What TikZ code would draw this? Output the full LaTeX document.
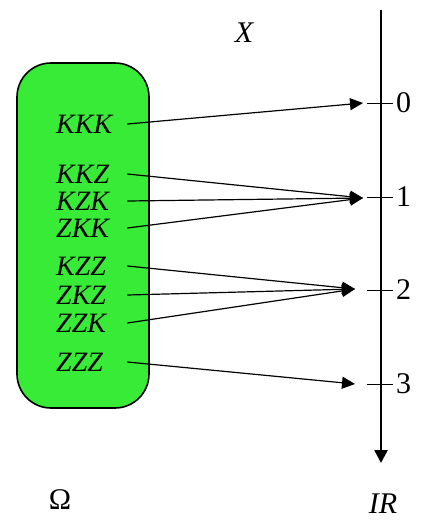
\documentclass[tikz,border=0pt]{standalone}
\usepackage{fontspec}
\setmainfont{Liberation Serif}
\usetikzlibrary{arrows.meta}
\definecolor{boxgreen}{RGB}{55,235,55}
\begin{document}
\begin{tikzpicture}[x=1pt,y=-1pt,
  lab/.style={anchor=west,inner sep=0pt,text width=71pt,align=left,font=\fontsize{28}{28}\selectfont\itshape},
  num/.style={anchor=west,inner sep=0pt,font=\fontsize{30}{30}\selectfont},
  maparrow/.style={line width=1.2pt,-{Triangle[length=13pt,width=12pt]}},
  tick/.style={line width=1pt}]
\useasboundingbox (0,0) rectangle (421,525);
\node[draw=black,line width=1.6pt,fill=boxgreen,rounded corners=34pt,minimum width=132pt,minimum height=345pt,inner sep=0pt] (omega) at (83,235.5) {};
\node[lab] (kkk) at (56,124) {KKK};
\node[lab] (kkz) at (56,174) {KKZ};
\node[lab] (kzk) at (56,201) {KZK};
\node[lab] (zkk) at (56,228) {ZKK};
\node[lab] (kzz) at (56,266) {KZZ};
\node[lab] (zkz) at (56,295) {ZKZ};
\node[lab] (zzk) at (56,323) {ZZK};
\node[lab] (zzz) at (56,362) {ZZZ};
\coordinate (t0) at (363,103);
\coordinate (t1) at (363,198);
\coordinate (t2) at (355,289);
\coordinate (t3) at (355,384);
\coordinate (axtop) at (381,10);
\coordinate (axbot) at (381,463);
\draw[line width=2.6pt,-{Triangle[length=13pt,width=13pt]}] (axtop) -- (axbot);
\foreach \i/\y in {0/103,1/197,2/290,3/384}{
  \coordinate (a\i) at (367,\y);
  \coordinate (b\i) at (393,\y);
  \draw[tick] (a\i) -- (b\i);
  \node[num] (n\i) at (396,\y) {\i};
}
\draw[maparrow] (kkk.east) -- (t0);
\draw[maparrow] (kkz.east) -- (t1);
\draw[maparrow] (kzk.east) -- (t1);
\draw[maparrow] (zkk.east) -- (t1);
\draw[maparrow] (kzz.east) -- (t2);
\draw[maparrow] (zkz.east) -- (t2);
\draw[maparrow] (zzk.east) -- (t2);
\draw[maparrow] (zzz.east) -- (t3);
\node[font=\fontsize{30}{30}\selectfont\itshape,inner sep=0pt] (xlab) at (244,33) {X};
\node[font=\fontsize{30}{30}\selectfont\itshape,inner sep=0pt] (rlab) at (383,504) {IR};
\node[font=\fontsize{30}{30}\selectfont,inner sep=0pt] (olab) at (60,500) {Ω};
\end{tikzpicture}
\end{document}
